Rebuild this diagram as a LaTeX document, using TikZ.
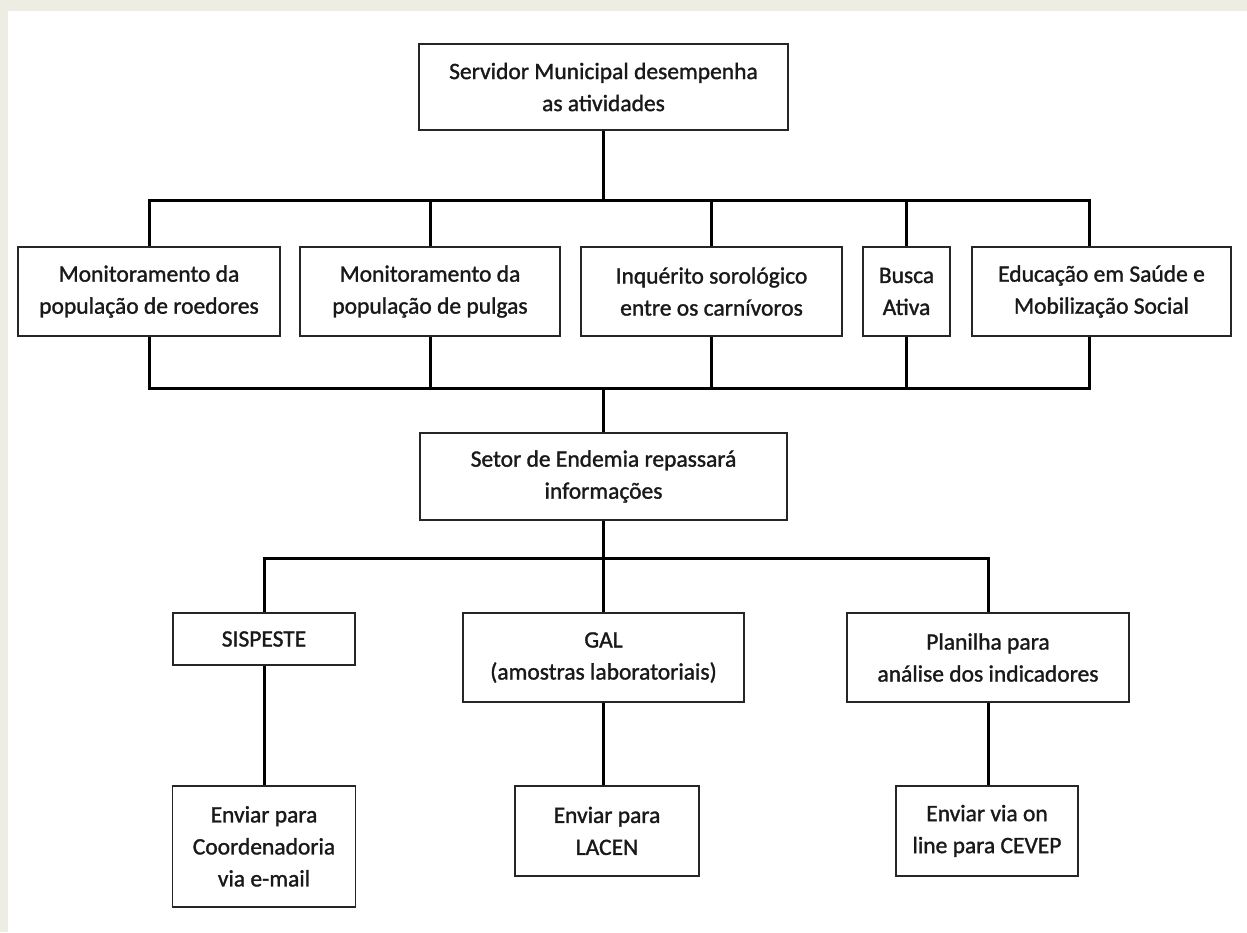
\documentclass[tikz,border=0pt]{standalone}
\usepackage{fontspec}
\setmainfont{Carlito}
\newfontfamily\boxfont{Carlito}[FakeBold=1.3]
\usepackage{tikz}
\definecolor{paper}{RGB}{238,237,228}

\begin{document}
\begin{tikzpicture}[x=1pt, y=-1pt,
act/.style={rectangle, draw=black!85, line width=1.8pt, fill=white, align=center, inner sep=0pt, text=black!90, font=\boxfont\fontsize{23.5}{32}\selectfont},
link/.style={line width=3pt, draw=black},]

\useasboundingbox (0,0) rectangle (1247,932);
\fill[paper] (0,0) rectangle (1247,932);
\fill[white] (8,11) rectangle (1247,932);

% level 1
\node[act, minimum width=369pt, minimum height=86pt] (L1_serv) at (603.5,87) {Servidor Municipal desempenha\\as atividades};

% level 2
\node[act, minimum width=262pt, minimum height=89pt] (L2_roed)  at (149,291.5)   {Monitoramento da\\população de roedores};
\node[act, minimum width=260pt, minimum height=89pt] (L2_pulg)  at (430,291.5)   {Monitoramento da\\população de pulgas};
\node[act, minimum width=261pt, minimum height=89pt] (L2_inq)   at (711.5,291.5) {Inquérito sorológico\\entre os carnívoros};
\node[act, minimum width=87pt,  minimum height=89pt] (L2_busca) at (906.5,291.5) {Busca\\Ativa};
\node[act, minimum width=259pt, minimum height=89pt] (L2_educ)  at (1101.5,291.5) {Educação em Saúde e\\Mobilização Social};

% level 3
\node[act, minimum width=367pt, minimum height=87pt] (L3_setor) at (603.5,476.5) {Setor de Endemia repassará\\informações};

% level 4
\node[act, minimum width=182pt, minimum height=52pt] (L4_sisp) at (264,639)    {SISPESTE};
\node[act, minimum width=281pt, minimum height=89pt] (L4_gal)  at (603.5,657.5) {GAL\\(amostras laboratoriais)};
\node[act, minimum width=282pt, minimum height=89pt] (L4_plan) at (988,657.5)  {Planilha para\\análise dos indicadores};

% level 5
\node[act, minimum width=183pt, minimum height=121pt, anchor=north] (L5_coord) at (264,785)   {Enviar para\\Coordenadoria\\via e-mail};
\node[act, minimum width=184pt, minimum height=90pt,  anchor=north] (L5_lacen) at (607,785)   {Enviar para\\LACEN};
\node[act, minimum width=182pt, minimum height=90pt,  anchor=north] (L5_cevep) at (987,785)   {Enviar via on\\line para CEVEP};

% junctions
\path (L1_serv.south) ++(0,70) coordinate (J1);
\path (L3_setor.north) ++(0,-44) coordinate (J2);
\path (L3_setor.south) ++(0,38) coordinate (J3);

\draw[link] (L1_serv.south) -- (J1);
\draw[link] (L2_roed.north) |- (J1);
\draw[link] (L2_pulg.north) |- (J1);
\draw[link] (L2_inq.north) |- (J1);
\draw[link] (L2_busca.north) |- (J1);
\draw[link] ([xshift=-12.5pt]L2_educ.north) |- (J1);

\draw[link] (L2_roed.south) |- (J2);
\draw[link] (L2_pulg.south) |- (J2);
\draw[link] (L2_inq.south) |- (J2);
\draw[link] (L2_busca.south) |- (J2);
\draw[link] ([xshift=-12.5pt]L2_educ.south) |- (J2);
\draw[link] (J2) -- (L3_setor.north);

\draw[link] (L3_setor.south) -- (L4_gal.north);
\draw[link] (L4_sisp.north) |- (J3);
\draw[link] (L4_plan.north) |- (J3);

\draw[link] (L4_sisp.south) -- (L4_sisp.south |- L5_coord.north);
\draw[link] (L4_gal.south) -- (L4_gal.south |- L5_lacen.north);
\draw[link] (L4_plan.south) -- (L4_plan.south |- L5_cevep.north);

\end{tikzpicture}
\end{document}
